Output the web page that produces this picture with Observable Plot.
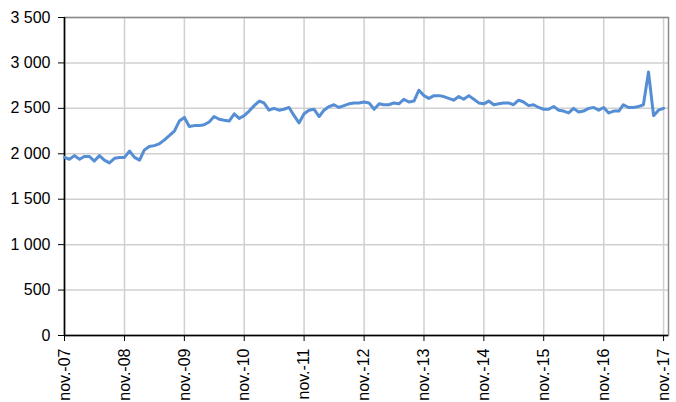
<!DOCTYPE html>
<html>
<head>
<meta charset="utf-8">
<script src="https://cdn.jsdelivr.net/npm/d3@7"></script>
<script src="https://cdn.jsdelivr.net/npm/@observablehq/plot@0.6"></script>
<style>
  body { margin: 0; background: #fff; }
  #chart svg { display: block; }
</style>
</head>
<body>
<div id="chart"></div>
<script>
// serie mensual, nov. 2007 -> nov. 2017
const startMonth = new Date(Date.UTC(2007, 10, 1))
const values = [
  1960, 1940, 1980, 1940, 1970, 1970, 1920, 1980, 1930, 1900, 1950, 1960,
  1960, 2030, 1960, 1930, 2040, 2080, 2090, 2110, 2150, 2200, 2250, 2360,
  2400, 2300, 2310, 2310, 2320, 2350, 2410, 2380, 2370, 2360, 2440, 2390,
  2420, 2470, 2530, 2580, 2560, 2480, 2500, 2480, 2490, 2510, 2420, 2340,
  2440, 2480, 2490, 2410, 2480, 2520, 2540, 2510, 2530, 2550, 2560, 2560,
  2570, 2560, 2490, 2550, 2540, 2540, 2560, 2550, 2600, 2570, 2580, 2700,
  2640, 2610, 2640, 2640, 2630, 2610, 2590, 2630, 2600, 2640, 2600, 2560,
  2550, 2580, 2540, 2550, 2560, 2560, 2540, 2590, 2570, 2530, 2540, 2510,
  2490, 2490, 2520, 2480, 2470, 2450, 2500, 2460, 2470, 2500, 2510, 2480,
  2510, 2450, 2470, 2470, 2540, 2510, 2510, 2520, 2540, 2900, 2420, 2480,
  2500
]
const tickLabels = ['nov.-07', 'nov.-08', 'nov.-09', 'nov.-10', 'nov.-11', 'nov.-12',
  'nov.-13', 'nov.-14', 'nov.-15', 'nov.-16', 'nov.-17']
const yTicks = [0, 500, 1000, 1500, 2000, 2500, 3000, 3500]

const data = values.map((v, i) => ({ date: d3.utcMonth.offset(startMonth, i), value: v }))
const xTicks = tickLabels.map((l, i) => d3.utcYear.offset(startMonth, i))
const lastMonth = data[data.length - 1].date

const fmtY = d => d3.format(',')(d).replace(',', ' ')
const fmtX = d => tickLabels[xTicks.findIndex(t => +t === +d)]

const chart = Plot.plot({
  width: 676,
  height: 402,
  marginLeft: 64,
  marginRight: 8,
  marginTop: 17,
  marginBottom: 67,
  style: { fontFamily: 'Liberation Sans, Arial, sans-serif', fontSize: '16px', color: '#000', background: '#fff' },
  x: { type: 'utc', domain: [startMonth, d3.utcMonth.offset(lastMonth, 1)] },
  y: { domain: [0, 3500] },
  marks: [
    Plot.gridX(xTicks, { stroke: '#d0d0d0', strokeOpacity: 1, strokeWidth: 1.5 }),
    Plot.gridY(yTicks, { stroke: '#d0d0d0', strokeOpacity: 1, strokeWidth: 1.5 }),
    Plot.frame({ stroke: '#8a8a8a', strokeWidth: 1.5 }),
    Plot.axisY(yTicks, { tickFormat: fmtY, tickSize: 6, tickPadding: 8, fontSize: 16, label: null }),
    Plot.axisX(xTicks, { tickFormat: fmtX, tickRotate: -90, tickSize: 6, tickPadding: 7, fontSize: 16, label: null }),
    Plot.ruleX([startMonth], { stroke: '#000', strokeWidth: 1.5 }),
    Plot.ruleY([0], { stroke: '#000', strokeWidth: 1.5 }),
    Plot.lineY(data, { x: 'date', y: 'value', stroke: '#558ed5', strokeWidth: 3 })
  ]
})

d3.select('#chart').append(() => chart)
</script>
</body>
</html>
